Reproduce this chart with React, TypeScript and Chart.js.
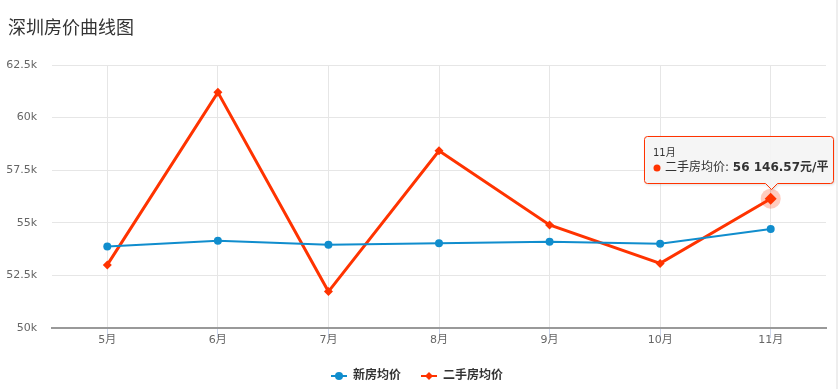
import React, { useEffect, useRef } from "react";
import { Chart, registerables } from "chart.js";

Chart.register(...registerables);

const chartTitle = "深圳房价曲线图";
const categories = ["5月", "6月", "7月", "8月", "9月", "10月", "11月"];
const seriesNames = ["新房均价", "二手房均价"];
const newHomePrices = [53870, 54150, 53960, 54030, 54100, 54000, 54700];
const resalePrices = [53000, 61200, 51730, 58420, 54900, 53070, 56146.57];
const yTickValues = [50000, 52500, 55000, 57500, 60000, 62500];
const tooltipSeries = 1;
const tooltipIndex = 6;
const unit = "元/平";

const BLUE = "#108dcd";
const RED = "#ff3300";
const FONT = '"DejaVu Sans", "Noto Sans CJK SC", sans-serif';
const TITLE_FONT = '"Noto Sans CJK SC", sans-serif';

function fmtK(v: number): string {
  return v / 1000 + "k";
}
function fmtValue(v: number): string {
  const [i, d] = v.toFixed(2).split(".");
  return i.replace(/\B(?=(\d{3})+(?!\d))/g, " ") + "." + d;
}

function legendSymbol(color: string, kind: "circle" | "diamond"): HTMLCanvasElement {
  const c = document.createElement("canvas");
  c.width = 16;
  c.height = 10;
  const g = c.getContext("2d")!;
  g.strokeStyle = color;
  g.lineWidth = 2;
  g.beginPath();
  g.moveTo(0, 5);
  g.lineTo(16, 5);
  g.stroke();
  g.fillStyle = color;
  g.beginPath();
  if (kind === "circle") {
    g.arc(8, 5, 4, 0, Math.PI * 2);
  } else {
    g.moveTo(8, 1);
    g.lineTo(12, 5);
    g.lineTo(8, 9);
    g.lineTo(4, 5);
    g.closePath();
  }
  g.fill();
  return c;
}

const tooltipPlugin = {
  id: "hcTooltip",
  afterLayout(chart: any) {
    const y = chart.scales.y;
    if (y) {
      y.left = 0;
      y.width = y.right;
    }
  },
  beforeDatasetsDraw(chart: any) {
    const el = chart.getDatasetMeta(tooltipSeries).data[tooltipIndex];
    if (!el) return;
    const ctx = chart.ctx;
    ctx.save();
    ctx.fillStyle = "rgba(255,51,0,0.25)";
    ctx.beginPath();
    ctx.arc(el.x, el.y, 10, 0, Math.PI * 2);
    ctx.fill();
    ctx.restore();
  },
  afterDraw(chart: any) {
    const el = chart.getDatasetMeta(tooltipSeries).data[tooltipIndex];
    if (!el) return;
    const ctx = chart.ctx;
    const titleText = categories[tooltipIndex];
    const label = seriesNames[tooltipSeries] + ": ";
    const value = fmtValue(resalePrices[tooltipIndex]) + unit;
    ctx.save();
    ctx.font = "12px " + FONT;
    const wLabel = ctx.measureText(label).width;
    ctx.font = "bold 12px " + FONT;
    const wValue = ctx.measureText(value).width;
    const w = Math.round(8 + 12 + wLabel + wValue + 6);
    const h = 47;
    let bx = Math.round(el.x - w / 2);
    bx = Math.min(bx, chart.width - w - 5);
    const by = Math.round(el.y - 16 - h) + 0.5;
    bx += 0.5;
    const ax = Math.round(el.x) + 0.5;
    ctx.beginPath();
    ctx.moveTo(bx + 3, by);
    ctx.lineTo(bx + w - 3, by);
    ctx.arcTo(bx + w, by, bx + w, by + 3, 3);
    ctx.lineTo(bx + w, by + h - 3);
    ctx.arcTo(bx + w, by + h, bx + w - 3, by + h, 3);
    ctx.lineTo(ax + 6, by + h);
    ctx.lineTo(ax, by + h + 6);
    ctx.lineTo(ax - 6, by + h);
    ctx.lineTo(bx + 3, by + h);
    ctx.arcTo(bx, by + h, bx, by + h - 3, 3);
    ctx.lineTo(bx, by + 3);
    ctx.arcTo(bx, by, bx + 3, by, 3);
    ctx.closePath();
    ctx.shadowColor = "rgba(0,0,0,0.18)";
    ctx.shadowOffsetX = 1;
    ctx.shadowOffsetY = 1;
    ctx.shadowBlur = 3;
    ctx.fillStyle = "rgba(247,247,247,0.92)";
    ctx.fill();
    ctx.shadowColor = "transparent";
    ctx.strokeStyle = RED;
    ctx.lineWidth = 1;
    ctx.stroke();

    ctx.textBaseline = "middle";
    ctx.textAlign = "left";
    ctx.fillStyle = "#333";
    ctx.font = "10px " + FONT;
    ctx.fillText(titleText, bx + 8.5, by + 17);
    ctx.fillStyle = RED;
    ctx.beginPath();
    ctx.arc(bx + 12.5, by + 31.5, 3.5, 0, Math.PI * 2);
    ctx.fill();
    ctx.fillStyle = "#333";
    ctx.font = "12px " + FONT;
    ctx.fillText(label, bx + 20.5, by + 31.5);
    ctx.font = "bold 12px " + FONT;
    ctx.fillText(value, bx + 20.5 + wLabel, by + 31.5);
    ctx.restore();
  },
};

export default function App() {
  const ref = useRef<HTMLCanvasElement | null>(null);
  useEffect(() => {
    if (!ref.current) return;
    const symbols = [legendSymbol(BLUE, "circle"), legendSymbol(RED, "diamond")];
    const chart = new Chart(ref.current, {
      type: "line",
      data: {
        labels: categories,
        datasets: [
          {
            label: seriesNames[0],
            data: newHomePrices,
            borderColor: BLUE,
            backgroundColor: BLUE,
            borderWidth: 2,
            pointStyle: "circle",
            pointRadius: 4,
            pointBorderWidth: 0,
            tension: 0,
          },
          {
            label: seriesNames[1],
            data: resalePrices,
            borderColor: RED,
            backgroundColor: RED,
            borderWidth: 3,
            pointStyle: "rectRot",
            pointRadius: (c: any) => (c.dataIndex === tooltipIndex ? 6 : 4.5),
            pointBorderWidth: 0,
            tension: 0,
          },
        ],
      },
      options: {
        responsive: false,
        animation: false,
        devicePixelRatio: 1,
        events: [],
        layout: { padding: { left: 8, right: 12, top: 0, bottom: -3 } },
        font: { family: FONT },
        scales: {
          x: {
            offset: true,
            grid: {
              offset: false,
              color: "#e6e6e6",
              drawTicks: true,
              tickLength: 10,
              tickColor: "#ccd6eb",
            },
            border: { display: true, color: "#999", width: 2 },
            ticks: { color: "#666", font: { size: 11, family: FONT }, padding: -4, maxRotation: 0 },
            afterFit: (s: any) => {
              s.height = 22;
            },
          },
          y: {
            min: yTickValues[0],
            max: yTickValues[yTickValues.length - 1],
            afterBuildTicks: (s: any) => {
              s.ticks = yTickValues.map((v) => ({ value: v }));
            },
            grid: { color: "#e6e6e6", drawTicks: false },
            border: { display: false },
            ticks: {
              color: "#666",
              font: { size: 11, family: FONT },
              padding: 15,
              callback: (v: any) => fmtK(Number(v)),
            },
            afterFit: (s: any) => {
              s.width = 44;
            },
          },
        },
        plugins: {
          title: {
            display: true,
            text: chartTitle,
            align: "start",
            color: "#333",
            font: { size: 18, weight: "normal", family: TITLE_FONT },
            padding: { top: 16, bottom: 27.4 },
          },
          legend: {
            position: "bottom",
            labels: {
              color: "#333",
              font: { size: 12, weight: "bold", family: FONT },
              usePointStyle: true,
              pointStyleWidth: 16,
              padding: 20,
              generateLabels: (ch: any) =>
                ch.data.datasets.map((ds: any, i: number) => ({
                  text: ds.label,
                  fillStyle: ds.borderColor,
                  strokeStyle: ds.borderColor,
                  lineWidth: 0,
                  pointStyle: symbols[i],
                  datasetIndex: i,
                  hidden: false,
                  fontColor: "#333",
                })),
            },
          },
          tooltip: { enabled: false },
        },
      },
      plugins: [tooltipPlugin],
    } as any);
    return () => chart.destroy();
  }, []);
  return (
    <div style={{ position: "absolute", left: 0, top: 0, width: 838, height: 389, background: "#fff" }}>
      <canvas ref={ref} width={838} height={389} style={{ display: "block" }} />
      <div style={{ position: "absolute", right: 0, top: 0, width: 2, height: 389, background: "#eeeeee" }} />
    </div>
  );
}
